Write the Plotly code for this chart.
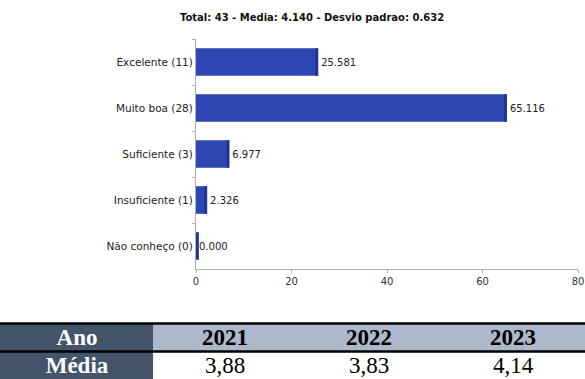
import plotly.graph_objects as go

# ---- data ----
categories = ["Excelente (11)", "Muito boa (28)", "Suficiente (3)", "Insuficiente (1)", "Não conheço (0)"]
percentages = [25.581, 65.116, 6.977, 2.326, 0.000]
title_text = "Total: 43 - Media: 4.140 - Desvio padrao: 0.632"
x_ticks = [0, 20, 40, 60, 80]

table_header = ["Ano", "2021", "2022", "2023"]
table_row = ["Média", "3,88", "3,83", "4,14"]

# ---- styling ----
W, H = 585, 379
BAR = "#2c47b1"
BAR_DARK = "#1f3590"
AXIS = "#b0b0b0"
DARK_CELL = "#44546a"
LIGHT_CELL = "#adb9ca"

strip_w = 0.6
strip_base = [max(v - strip_w, 0) for v in percentages]

fig = go.Figure()
fig.add_trace(go.Bar(
    y=categories, x=percentages, orientation="h",
    marker=dict(color=BAR, line=dict(width=0)),
    text=[f"{v:.3f}" for v in percentages], textposition="outside",
    textfont=dict(family="DejaVu Sans", size=10, color="#222"),
    cliponaxis=False, showlegend=False,
))
fig.add_trace(go.Bar(
    y=categories, x=[strip_w] * len(percentages), base=strip_base, orientation="h",
    marker=dict(color=BAR_DARK, line=dict(width=0)),
    showlegend=False, hoverinfo="skip",
))

# ---- table drawn as heatmaps on their own axes ----
col_widths = [153, 144, 144, 144]
x_bounds = [0]
for w in col_widths:
    x_bounds.append(x_bounds[-1] + w)
table_top, row_h = 323, 28
y_bounds = [table_top, table_top + row_h, table_top + 2 * row_h]

# left (dark) column with white bold text
fig.add_trace(go.Heatmap(
    x=x_bounds[:2], y=y_bounds, z=[[0], [0]],
    text=[[f"<b>{table_header[0]}</b>"], [f"<b>{table_row[0]}</b>"]], texttemplate="%{text}",
    textfont=dict(family="Liberation Serif", size=23, color="white"),
    colorscale=[[0, DARK_CELL], [1, DARK_CELL]], zmin=0, zmax=1,
    showscale=False, hoverinfo="skip", xaxis="x2", yaxis="y2",
))
# year columns: light header row, white value row, black text
fig.add_trace(go.Heatmap(
    x=x_bounds[1:], y=y_bounds, z=[[0, 0, 0], [1, 1, 1]],
    text=[[f"<b>{v}</b>" for v in table_header[1:]], table_row[1:]], texttemplate="%{text}",
    textfont=dict(family="Liberation Serif", size=23, color="black"),
    colorscale=[[0, LIGHT_CELL], [1, "#ffffff"]], zmin=0, zmax=1,
    showscale=False, hoverinfo="skip", xaxis="x2", yaxis="y2",
))

x0, x1 = 196 / W, 578 / W
fig.update_layout(
    width=W, height=H,
    margin=dict(l=0, r=0, t=0, b=0, autoexpand=False),
    paper_bgcolor="white", plot_bgcolor="white",
    barmode="overlay", bargap=0.4,
    font=dict(family="DejaVu Sans", size=10, color="#333"),
    title=dict(text=f"<b>{title_text}</b>", x=312 / W, xanchor="center",
               y=1 - 17 / H, yanchor="middle",
               font=dict(family="DejaVu Sans", size=10, color="#111")),
    xaxis=dict(domain=[x0, x1], range=[0, 80], tickvals=x_ticks,
               showgrid=False, zeroline=False, showline=True, linecolor=AXIS, linewidth=1,
               ticks="outside", ticklen=3, tickcolor=AXIS, automargin=False,
               tickfont=dict(family="DejaVu Sans", size=10, color="#333")),
    yaxis=dict(domain=[(H - 269) / H, (H - 39) / H],
               categoryorder="array", categoryarray=categories, autorange="reversed",
               showgrid=False, zeroline=False, showline=True, linecolor=AXIS, linewidth=1,
               ticks="outside", ticklen=3, tickcolor=AXIS, tickson="boundaries", automargin=False,
               tickfont=dict(family="DejaVu Sans", size=10.5, color="#222")),
    xaxis2=dict(domain=[0, 1], range=[0, W], visible=False, fixedrange=True),
    yaxis2=dict(domain=[0, (H - table_top) / H], range=[y_bounds[-1], y_bounds[0]],
                visible=False, fixedrange=True),
    shapes=[
        dict(type="line", xref="paper", yref="paper", x0=0, x1=1,
             y0=(H - 323.5) / H, y1=(H - 323.5) / H, line=dict(color="black", width=2.5)),
        dict(type="line", xref="paper", yref="paper", x0=0, x1=1,
             y0=(H - 351.5) / H, y1=(H - 351.5) / H, line=dict(color="black", width=2.5)),
    ],
)

fig.write_html("out.html", config={"displayModeBar": False},
               post_script="document.body.style.margin='0';document.body.style.overflow='hidden';")
